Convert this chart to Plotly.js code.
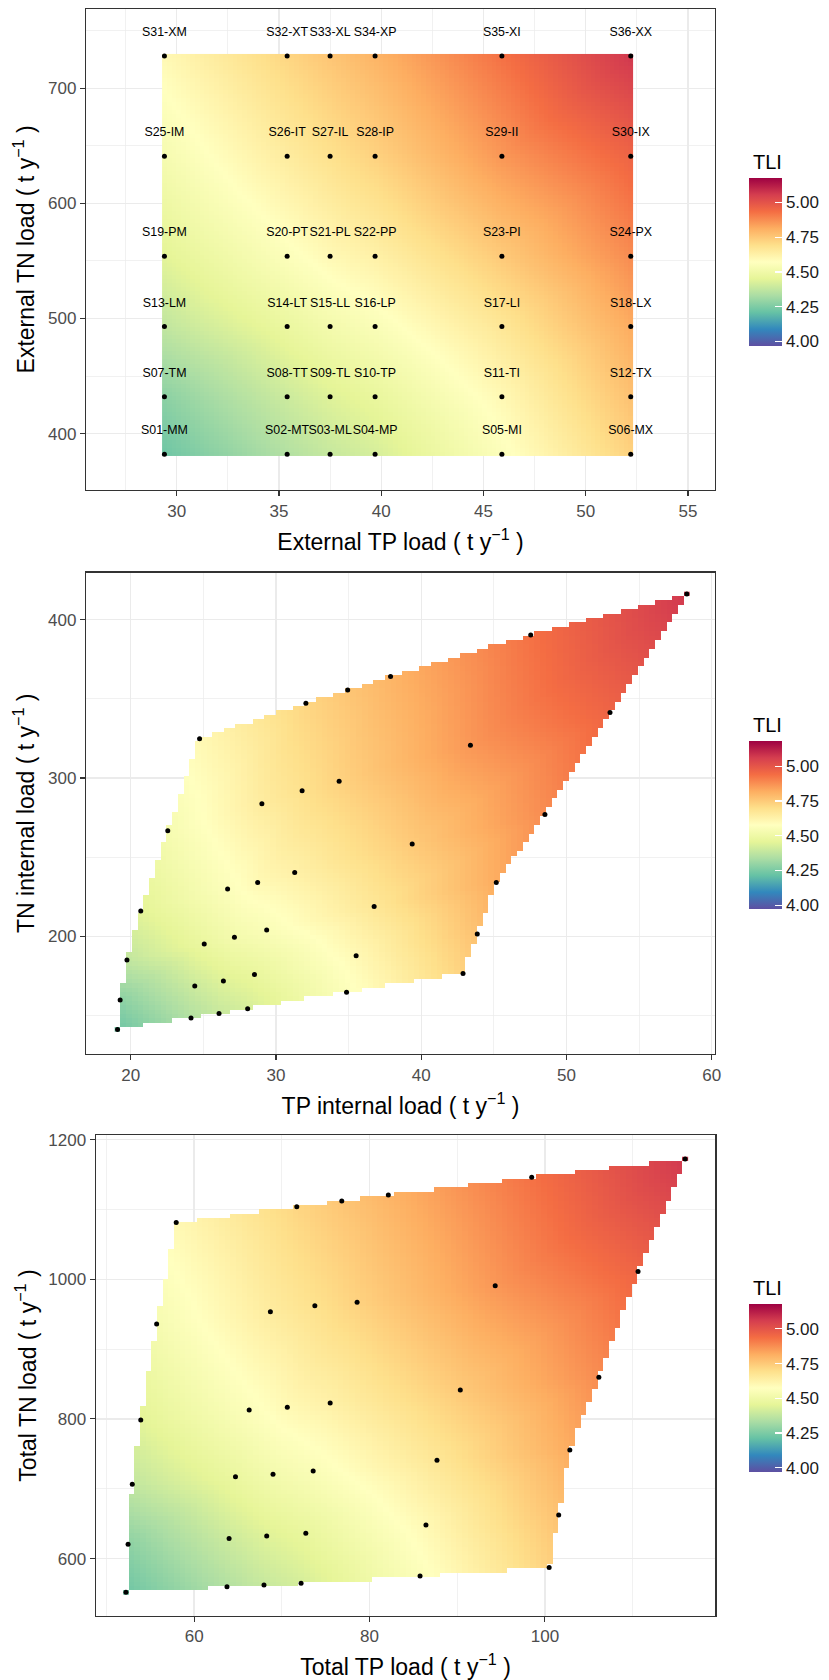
<!DOCTYPE html>
<html>
<head>
<meta charset="utf-8">
<script src="https://cdn.plot.ly/plotly-3.0.1.min.js"></script>
<style>
html,body{margin:0;padding:0;background:#ffffff;}
#chart{width:829px;height:1680px;}
</style>
</head>
<body>
<div id="chart"></div>
<script>
// ---------------- DATA ----------------
// Scenario levels (first letter = TN level, second letter = TP level)
const levelCodes = ['M', 'T', 'L', 'P', 'I', 'X'];
// External loads for each level
const extTPLevels = [29.4, 35.4, 37.5, 39.7, 45.9, 52.2];
const extTNLevels = [382, 432, 493, 554, 641, 728];

// Scenario labels, row-major: TN level (rows) x TP level (cols)
const scenarioLabels = [
  'S01-MM','S02-MT','S03-ML','S04-MP','S05-MI','S06-MX',
  'S07-TM','S08-TT','S09-TL','S10-TP','S11-TI','S12-TX',
  'S13-LM','S14-LT','S15-LL','S16-LP','S17-LI','S18-LX',
  'S19-PM','S20-PT','S21-PL','S22-PP','S23-PI','S24-PX',
  'S25-IM','S26-IT','S27-IL','S28-IP','S29-II','S30-IX',
  'S31-XM','S32-XT','S33-XL','S34-XP','S35-XI','S36-XX'
];

// TLI of each scenario
const tli = [
  4.23, 4.35, 4.39, 4.42, 4.56, 4.73,
  4.28, 4.40, 4.44, 4.47, 4.60, 4.77,
  4.38, 4.48, 4.52, 4.55, 4.67, 4.82,
  4.45, 4.56, 4.60, 4.63, 4.75, 4.88,
  4.53, 4.65, 4.69, 4.73, 4.86, 4.96,
  4.60, 4.72, 4.76, 4.80, 4.93, 5.07
];

// Internal loads (t/y)
const intTP = [
  19.09, 24.15, 26.08, 28.05, 34.86, 42.88,
  19.27, 24.41, 26.38, 28.52, 35.52, 43.86,
  19.74, 25.06, 27.14, 29.36, 36.76, 45.17,
  20.69, 26.67, 28.74, 31.29, 39.38, 48.52,
  22.55, 29.03, 31.80, 34.35, 43.39, 53.00,
  24.74, 32.06, 34.94, 37.89, 47.54, 58.29
];
const intTN = [
  141.2, 148.6, 151.3, 154.4, 164.8, 176.6,
  159.9, 168.7, 171.8, 175.9, 187.8, 201.6,
  185.1, 195.3, 199.5, 204.1, 218.9, 234.1,
  216.0, 230.0, 234.1, 240.4, 258.4, 276.9,
  266.7, 283.7, 292.0, 297.9, 320.6, 341.4,
  324.7, 347.2, 355.6, 364.1, 390.3, 416.2
];

// Total loads (t/y)
const totTP = [
  52.22, 63.74, 67.96, 72.19, 85.76, 100.48,
  52.46, 63.98, 68.27, 72.73, 86.43, 101.57,
  52.94, 64.71, 68.99, 73.57, 87.69, 102.84,
  53.91, 66.27, 70.62, 75.51, 90.35, 106.15,
  55.72, 68.69, 73.76, 78.58, 94.33, 110.62,
  57.95, 71.70, 76.83, 82.14, 98.49, 115.99
];
const totTN = [
  551.9, 559.6, 562.1, 564.7, 574.9, 587.2,
  620.5, 628.6, 632.2, 636.3, 648.1, 662.4,
  706.4, 717.1, 720.7, 725.3, 740.7, 755.5,
  798.5, 812.8, 816.9, 823.0, 841.4, 859.8,
  936.1, 953.5, 962.1, 967.3, 990.8, 1011.3,
  1081.3, 1103.8, 1112.0, 1120.7, 1146.3, 1172.4
];

// Colour bar limits and ticks
const tliLimits = [3.97, 5.18];
const tliTicks = [4.00, 4.25, 4.50, 4.75, 5.00];

// ---------------- BUILD ----------------
const N = levelCodes.length;
const extTP = [], extTN = [];
for (let r = 0; r < N; r++) for (let c = 0; c < N; c++) {
  extTP.push(extTPLevels[c]);
  extTN.push(extTNLevels[r]);
}

// Linear interpolation of the scenario TLI over the scenario mesh (like akima::interp)
function surface(xs, ys, zs, n) {
  const tris = [];
  const id = (r, c) => r * N + c;
  for (let r = 0; r < N - 1; r++) for (let c = 0; c < N - 1; c++) {
    const a = id(r, c), b = id(r, c + 1), d = id(r + 1, c + 1), e = id(r + 1, c);
    tris.push([a, b, d], [a, d, e]);
  }
  const xmin = Math.min(...xs), xmax = Math.max(...xs);
  const ymin = Math.min(...ys), ymax = Math.max(...ys);
  const sx = xmax - xmin, sy = ymax - ymin;
  const U = xs.map(v => (v - xmin) / sx), V = ys.map(v => (v - ymin) / sy);
  const gx = [], gy = [];
  for (let i = 0; i < n; i++) { gx.push(xmin + sx * i / (n - 1)); gy.push(ymin + sy * i / (n - 1)); }
  const z = [];
  for (let j = 0; j < n; j++) {
    const pv = j / (n - 1);
    const row = [];
    for (let i = 0; i < n; i++) {
      const pu = i / (n - 1);
      let val = null;
      for (const t of tris) {
        const u0 = U[t[0]], v0 = V[t[0]], u1 = U[t[1]], v1 = V[t[1]], u2 = U[t[2]], v2 = V[t[2]];
        const det = (v1 - v2) * (u0 - u2) + (u2 - u1) * (v0 - v2);
        if (Math.abs(det) < 1e-12) continue;
        const l0 = ((v1 - v2) * (pu - u2) + (u2 - u1) * (pv - v2)) / det;
        const l1 = ((v2 - v0) * (pu - u2) + (u0 - u2) * (pv - v2)) / det;
        const l2 = 1 - l0 - l1;
        const eps = -1e-7;
        if (l0 >= eps && l1 >= eps && l2 >= eps) {
          val = l0 * zs[t[0]] + l1 * zs[t[1]] + l2 * zs[t[2]];
          break;
        }
      }
      row.push(val);
    }
    z.push(row);
  }
  return { x: gx, y: gy, z: z };
}

const spectralRev = [
  [0.0, '#5e4fa2'], [0.1, '#3288bd'], [0.2, '#66c2a5'], [0.3, '#abdda4'],
  [0.4, '#e6f598'], [0.5, '#ffffbf'], [0.6, '#fee08b'], [0.7, '#fdae61'],
  [0.8, '#f46d43'], [0.9, '#d53e4f'], [1.0, '#9e0142']
];

const FONT = 'Liberation Sans, Arial, Helvetica, sans-serif';
const H = 1680, W = 829;

function colorbarAt(yCenterPx) {
  return {
    x: 749.3 / W, xanchor: 'left', xpad: 0,
    y: 1 - yCenterPx / H, yanchor: 'middle', ypad: 0,
    len: 168.4, lenmode: 'pixels', thickness: 33, thicknessmode: 'pixels',
    outlinewidth: 0,
    tickvals: tliTicks, ticktext: tliTicks.map(v => v.toFixed(2)),
    ticks: 'inside', ticklen: 7, tickcolor: '#ffffff', tickwidth: 1.2,
    tickfont: { family: FONT, size: 17, color: '#1a1a1a' },
    ticklabelposition: 'outside'
  };
}

function heat(surf, xa, ya, cbY) {
  return {
    type: 'heatmap', x: surf.x, y: surf.y, z: surf.z,
    xaxis: xa, yaxis: ya,
    colorscale: spectralRev, zmin: tliLimits[0], zmax: tliLimits[1],
    zsmooth: false, hoverinfo: 'skip',
    colorbar: colorbarAt(cbY)
  };
}

function pts(xs, ys, xa, ya) {
  return {
    type: 'scatter', mode: 'markers', x: xs, y: ys, xaxis: xa, yaxis: ya,
    marker: { color: '#000000', size: 5 }, hoverinfo: 'skip', showlegend: false
  };
}

const LABEL_NUDGE = 20;
const s1 = surface(extTP, extTN, tli, 100);
const s2 = surface(intTP, intTN, tli, 100);
const s3 = surface(totTP, totTN, tli, 100);

const data = [
  heat(s1, 'x', 'y', 261.5),
  pts(extTP, extTN, 'x', 'y'),
  {
    type: 'scatter', mode: 'text', x: extTP, y: extTN.map(v => v + LABEL_NUDGE),
    text: scenarioLabels, xaxis: 'x', yaxis: 'y', cliponaxis: false,
    textposition: 'middle center',
    textfont: { family: FONT, size: 12.4, color: '#000000' },
    hoverinfo: 'skip', showlegend: false
  },
  heat(s2, 'x2', 'y2', 825.35),
  pts(intTP, intTN, 'x2', 'y2'),
  heat(s3, 'x3', 'y3', 1387.9),
  pts(totTP, totTN, 'x3', 'y3')
];

function axisBase(extra) {
  return Object.assign({
    showline: true, mirror: true, linecolor: '#333333', linewidth: 1.2,
    ticks: 'outside', ticklen: 5, tickwidth: 1.1, tickcolor: '#333333',
    showgrid: true, gridcolor: '#EBEBEB', gridwidth: 1.4,
    zeroline: false,
    tickfont: { family: FONT, size: 17, color: '#4D4D4D' },
    layer: 'above traces'
  }, extra);
}
function ttl(text, standoff) {
  return { text: text, font: { family: FONT, size: 23, color: '#000000' }, standoff: standoff };
}
const sup = ' ( t y<sup>\u22121</sup> )';

const layout = {
  width: W, height: H,
  margin: { l: 0, r: 0, t: 0, b: 0 },
  paper_bgcolor: '#ffffff', plot_bgcolor: '#ffffff',
  showlegend: false,
  font: { family: FONT },
  xaxis: axisBase({
    domain: [86 / W, 715 / W], anchor: 'y', range: [25.565, 56.32],
    dtick: 5, tick0: 0,
    minor: { dtick: 2.5, tick0: 0, showgrid: true, gridcolor: '#EBEBEB', gridwidth: 0.7, ticks: '' },
    title: ttl('External TP load' + sup, 14)
  }),
  yaxis: axisBase({
    domain: [1 - 490 / H, 1 - 8.9 / H], anchor: 'x', range: [351.0, 768.9],
    dtick: 100, tick0: 0,
    minor: { dtick: 50, tick0: 0, showgrid: true, gridcolor: '#EBEBEB', gridwidth: 0.7, ticks: '' },
    title: ttl('External TN load' + sup, 7)
  }),
  xaxis2: axisBase({
    domain: [86 / W, 715 / W], anchor: 'y2', range: [16.92, 60.23],
    dtick: 10, tick0: 0,
    minor: { dtick: 5, tick0: 0, showgrid: true, gridcolor: '#EBEBEB', gridwidth: 0.7, ticks: '' },
    title: ttl('TP internal load' + sup, 14)
  }),
  yaxis2: axisBase({
    domain: [1 - 1054 / H, 1 - 572.5 / H], anchor: 'x2', range: [125.8, 429.7],
    dtick: 100, tick0: 0,
    minor: { dtick: 50, tick0: 0, showgrid: true, gridcolor: '#EBEBEB', gridwidth: 0.7, ticks: '' },
    title: ttl('TN internal load' + sup, 7)
  }),
  xaxis3: axisBase({
    domain: [95.8 / W, 715.3 / W], anchor: 'y3', range: [48.78, 119.43],
    dtick: 20, tick0: 0,
    minor: { dtick: 10, tick0: 0, showgrid: true, gridcolor: '#EBEBEB', gridwidth: 0.7, ticks: '' },
    title: ttl('Total TP load' + sup, 14)
  }),
  yaxis3: axisBase({
    domain: [1 - 1615.7 / H, 1 - 1135.4 / H], anchor: 'x3', range: [518.2, 1206.1],
    dtick: 200, tick0: 0,
    minor: { dtick: 100, tick0: 0, showgrid: true, gridcolor: '#EBEBEB', gridwidth: 0.7, ticks: '' },
    title: ttl('Total TN load' + sup, 5)
  }),
  annotations: [161.7, 725, 1287.9].map(py => ({
    text: 'TLI', xref: 'paper', yref: 'paper',
    x: 750.7 / W, xanchor: 'left', y: 1 - py / H, yanchor: 'middle',
    showarrow: false, font: { family: FONT, size: 20, color: '#000000' }
  }))
};

Plotly.newPlot('chart', data, layout, { staticPlot: true, displayModeBar: false });
</script>
</body>
</html>
